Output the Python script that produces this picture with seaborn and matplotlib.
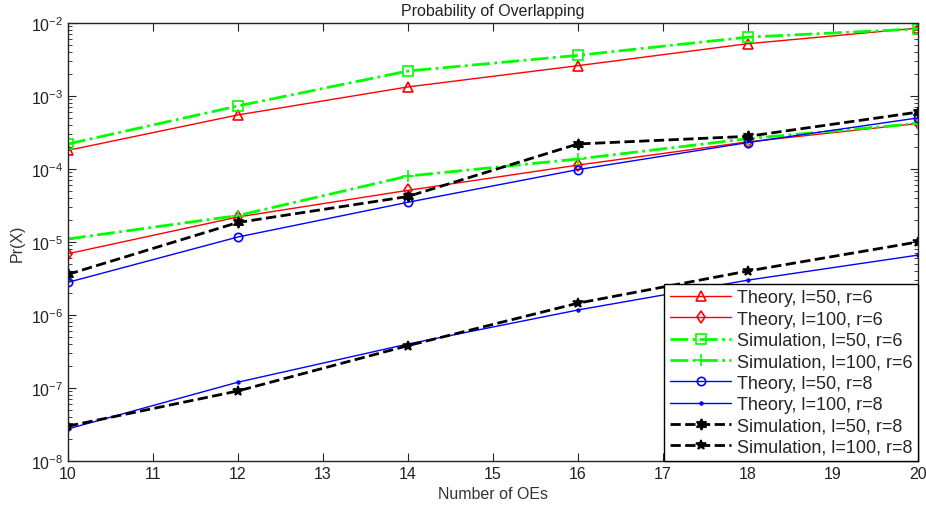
import numpy as np
import pandas as pd
import matplotlib
matplotlib.use("Agg")
import matplotlib.pyplot as plt
import seaborn as sns

# number of OEs on the x axis
oes = [10, 12, 14, 16, 18, 20]

# Pr(X), one list per curve
theory_l50_r6 = [1.8e-4, 5.5e-4, 1.33e-3, 2.6e-3, 5.2e-3, 8.5e-3]
theory_l100_r6 = [6.9e-6, 2.2e-5, 5.1e-5, 1.13e-4, 2.35e-4, 4.2e-4]
sim_l50_r6 = [2.2e-4, 7.3e-4, 2.2e-3, 3.6e-3, 6.4e-3, 8.3e-3]
sim_l100_r6 = [1.1e-5, 2.3e-5, 8.0e-5, 1.37e-4, 2.6e-4, 4.2e-4]
theory_l50_r8 = [2.8e-6, 1.17e-5, 3.5e-5, 9.8e-5, 2.3e-4, 5.0e-4]
theory_l100_r8 = [2.75e-8, 1.2e-7, 4.0e-7, 1.17e-6, 3.0e-6, 6.6e-6]
sim_l50_r8 = [3.6e-6, 1.85e-5, 4.2e-5, 2.2e-4, 2.8e-4, 6.0e-4]
sim_l100_r8 = [3.0e-8, 9.1e-8, 3.8e-7, 1.45e-6, 4.0e-6, 1.0e-5]

labels = ["Theory, l=50, r=6", "Theory, l=100, r=6",
          "Simulation, l=50, r=6", "Simulation, l=100, r=6",
          "Theory, l=50, r=8", "Theory, l=100, r=8",
          "Simulation, l=50, r=8", "Simulation, l=100, r=8"]
series = [theory_l50_r6, theory_l100_r6, sim_l50_r6, sim_l100_r6,
          theory_l50_r8, theory_l100_r8, sim_l50_r8, sim_l100_r8]

# matlab-like look for each curve
styles = [
    dict(color="red", ls="-", lw=1, marker="^", ms=7, mfc="none"),
    dict(color="red", ls="-", lw=1, marker="d", ms=6, mfc="none"),
    dict(color="#00ff00", ls="-.", lw=2, marker="s", ms=7, mfc="none"),
    dict(color="#00ff00", ls="-.", lw=2, marker="+", ms=8, mfc="none"),
    dict(color="blue", ls="-", lw=1, marker="o", ms=6, mfc="none"),
    dict(color="blue", ls="-", lw=1, marker=".", ms=4, mfc="blue"),
    dict(color="black", ls="--", lw=2, marker=(6, 1, 0), ms=8, mfc="black"),
    dict(color="black", ls="--", lw=2, marker="*", ms=7, mfc="black"),
]

sns.set_style("ticks")
plt.rcParams["font.family"] = ["Liberation Sans", "DejaVu Sans"]
plt.rcParams["mathtext.default"] = "regular"
plt.rcParams["xtick.direction"] = "in"
plt.rcParams["ytick.direction"] = "in"

fig = plt.figure(figsize=(9.26, 5.06), dpi=100)
ax = fig.add_axes([0.0734, 0.087, 0.9176, 0.8656])

for vals, lab, st in zip(series, labels, styles):
    df = pd.DataFrame({"oes": oes, "pr": vals})
    sns.lineplot(data=df, x="oes", y="pr", ax=ax, label=lab,
                 color=st["color"], linestyle=st["ls"], linewidth=st["lw"],
                 marker=st["marker"], markersize=st["ms"],
                 markerfacecolor=st["mfc"], markeredgecolor=st["color"],
                 markeredgewidth=1.2)

ax.set_yscale("log")
ax.set_ylim(1e-8, 1e-2)
ax.set_xlim(10, 20)
ax.set_xticks(range(10, 21))
ax.set_yticks([1e-8, 1e-7, 1e-6, 1e-5, 1e-4, 1e-3, 1e-2])
ax.tick_params(which="both", top=True, right=True, labelsize=11.5, colors="#222222")
ax.tick_params(which="major", length=6)
ax.tick_params(which="minor", length=3)
ax.tick_params(axis="x", which="minor", top=False, bottom=False)
for sp in ax.spines.values():
    sp.set_visible(True)
    sp.set_color("#222222")
    sp.set_linewidth(1)

ax.set_title("Probability of Overlapping", fontsize=11.5, color="#222222", pad=6)
ax.set_xlabel("Number of OEs", fontsize=11.5, color="#333333")
ax.set_ylabel("Pr(X)", fontsize=11.5, color="#333333")

leg = ax.legend(loc="lower right", fontsize=13, frameon=True, fancybox=False,
                edgecolor="black", framealpha=1, borderaxespad=0,
                handlelength=3.4, labelspacing=0.24, borderpad=0.3,
                handletextpad=0.3)
leg.get_frame().set_linewidth(1)

fig.savefig("out.png", dpi=100)
